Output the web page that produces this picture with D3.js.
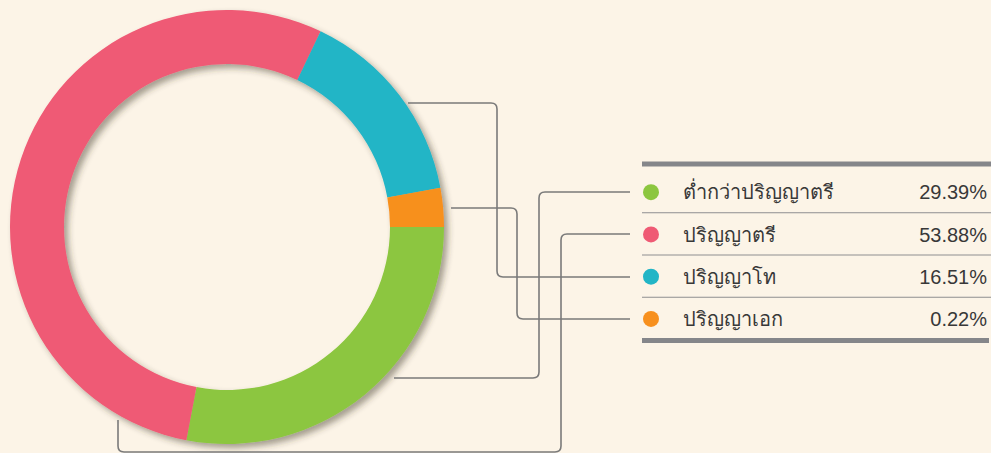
<!DOCTYPE html>
<html>
<head>
<meta charset="utf-8">
<script src="https://cdn.jsdelivr.net/npm/d3@7"></script>
<style>
  html, body { margin: 0; padding: 0; background: #fcf4e7; }
  svg { display: block; }
  text { font-family: "Liberation Sans", "Noto Sans", sans-serif; fill: #383838; }
</style>
</head>
<body>
<div id="chart"></div>
<script>
const categories = ["ต่ำกว่าปริญญาตรี", "ปริญญาตรี", "ปริญญาโท", "ปริญญาเอก"];
const percents = [29.39, 53.88, 16.51, 0.22];
// share of the ring each slice takes in the picture (the tiny one is drawn wider)
const drawnShare = [28.0, 54.1, 15.0, 2.9];
const colors = ["#8cc63f", "#ef5a74", "#22b5c6", "#f7901e"];

const w = 991;
const h = 453;
const cx = 227, cy = 227;
const outerR = 217, innerR = 163;

// leader lines from ring to legend rows
const leaders = [
    { pts: [[394, 378], [539, 378], [539, 192], [630, 192]] },
    { pts: [[118, 420], [118, 452], [561, 452], [561, 234], [630, 234]] },
    { pts: [[408, 103], [497, 103], [497, 277], [630, 277]] },
    { pts: [[451, 208], [517, 208], [517, 319], [630, 319]] }
];

const svg = d3.select("#chart")
    .append("svg")
    .attr("width", w)
    .attr("height", h);

const defs = svg.append("defs");
const f = defs.append("filter")
    .attr("id", "shadow")
    .attr("x", "-10%").attr("y", "-10%")
    .attr("width", "120%").attr("height", "120%");
f.append("feDropShadow")
    .attr("dx", 4).attr("dy", 4)
    .attr("stdDeviation", 3)
    .attr("flood-color", "#3a3020")
    .attr("flood-opacity", 0.45);

const pie = d3.pie()
    .sort(null)
    .value((d) => d.share)
    .startAngle(Math.PI / 2)
    .endAngle(Math.PI / 2 + 2 * Math.PI);

const data = categories.map((c, i) => ({ name: c, pct: percents[i], share: drawnShare[i], color: colors[i] }));

const arc = d3.arc().innerRadius(innerR).outerRadius(outerR);

const ring = svg.append("g")
    .attr("transform", `translate(${cx}, ${cy})`)
    .attr("filter", "url(#shadow)");

ring.selectAll("path")
    .data(pie(data))
    .enter()
    .append("path")
    .attr("d", arc)
    .attr("fill", (d) => d.data.color);

// rounded-corner polyline
const roundPath = (pts, r) => {
    let s = `M${pts[0][0]},${pts[0][1]}`;
    for (let i = 1; i < pts.length - 1; i++) {
        const [px, py] = pts[i - 1], [x, y] = pts[i], [nx, ny] = pts[i + 1];
        const d1 = Math.hypot(x - px, y - py), d2 = Math.hypot(nx - x, ny - y);
        const ax = x - (x - px) / d1 * r, ay = y - (y - py) / d1 * r;
        const bx = x + (nx - x) / d2 * r, by = y + (ny - y) / d2 * r;
        s += `L${ax},${ay}Q${x},${y} ${bx},${by}`;
    }
    const last = pts[pts.length - 1];
    return s + `L${last[0]},${last[1]}`;
};

svg.append("g")
    .selectAll("path")
    .data(leaders)
    .enter()
    .append("path")
    .attr("d", (d) => roundPath(d.pts, 6))
    .attr("fill", "none")
    .attr("stroke", "#7a7a7a")
    .attr("stroke-width", 1.6);

// legend table
const x0 = 642, x1 = 991;
const yScale = d3.scaleBand()
    .domain(categories)
    .range([171, 340]);

const legend = svg.append("g").attr("id", "legend");

legend.append("rect")
    .attr("x", x0).attr("y", 161.5)
    .attr("width", x1 - x0).attr("height", 5)
    .attr("fill", "#85868a");
legend.append("rect")
    .attr("x", x0).attr("y", 338)
    .attr("width", x1 - x0 - 2).attr("height", 5)
    .attr("fill", "#85868a");

legend.selectAll("line.sep")
    .data(categories.slice(1))
    .enter()
    .append("line")
    .attr("class", "sep")
    .attr("x1", x0).attr("x2", x1)
    .attr("y1", (d) => yScale(d) - 0.5)
    .attr("y2", (d) => yScale(d) - 0.5)
    .attr("stroke", "#8e8e90")
    .attr("stroke-width", 1);

const rows = legend.selectAll("g.row")
    .data(data)
    .enter()
    .append("g")
    .attr("class", "row")
    .attr("transform", (d) => `translate(0, ${yScale(d.name) + yScale.bandwidth() / 2})`);

rows.append("circle")
    .attr("cx", 651)
    .attr("cy", 0)
    .attr("r", 8)
    .attr("fill", (d) => d.color);

rows.append("text")
    .attr("x", 683)
    .attr("y", 0)
    .attr("dy", "0.36em")
    .attr("font-size", 20)
    .text((d) => d.name);

rows.append("text")
    .attr("x", 987)
    .attr("y", 0)
    .attr("dy", "0.36em")
    .attr("font-size", 20)
    .attr("text-anchor", "end")
    .text((d) => d3.format(".2f")(d.pct) + "%");
</script>
</body>
</html>
